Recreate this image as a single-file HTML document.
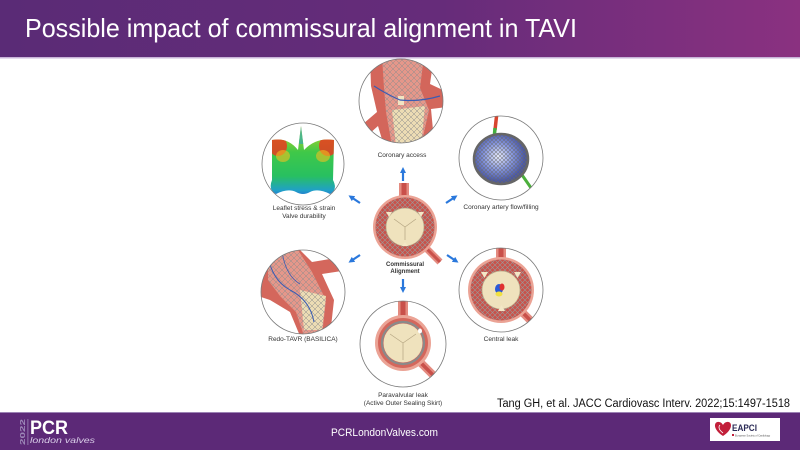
<!DOCTYPE html>
<html><head><meta charset="utf-8"><style>
html,body{margin:0;padding:0;background:#fff;}
svg{display:block;}
text{font-family:"Liberation Sans",sans-serif;}
</style></head><body>
<svg width="800" height="450" viewBox="0 0 800 450" xmlns="http://www.w3.org/2000/svg">
<defs>
<linearGradient id="hdr" x1="0" y1="0" x2="1" y2="0">
<stop offset="0" stop-color="#5a2b76"/><stop offset="0.55" stop-color="#662c7a"/><stop offset="1" stop-color="#8a3180"/>
</linearGradient>
<pattern id="mesh" width="6" height="6" patternUnits="userSpaceOnUse"><path d="M0 0L6 6M6 0L0 6" stroke="#8d8d8d" stroke-width="0.5" fill="none"/></pattern>
<pattern id="meshd" width="5" height="5" patternUnits="userSpaceOnUse"><path d="M0 0L5 5M5 0L0 5" stroke="#9a9a9a" stroke-width="0.6" fill="none"/></pattern>
<pattern id="meshg" width="4" height="4" patternUnits="userSpaceOnUse"><path d="M0 0L4 4M4 0L0 4" stroke="#6a6a6a" stroke-width="0.5" fill="none"/></pattern>
<linearGradient id="heat" x1="0" y1="0" x2="0" y2="1">
<stop offset="0" stop-color="#e8a020"/><stop offset="0.2" stop-color="#9ad030"/><stop offset="0.4" stop-color="#40c848"/><stop offset="0.7" stop-color="#28c060"/><stop offset="0.88" stop-color="#20a0c8"/><stop offset="1" stop-color="#2a50d0"/>
</linearGradient>
<radialGradient id="sph" cx="0.45" cy="0.45" r="0.6">
<stop offset="0" stop-color="#e4e8f8"/><stop offset="0.45" stop-color="#8494dc"/><stop offset="0.8" stop-color="#4a58a8"/><stop offset="1" stop-color="#555a70"/>
</radialGradient>
<clipPath id="c1"><circle cx="401" cy="101" r="42"/></clipPath>
<clipPath id="c2"><circle cx="303" cy="164" r="41"/></clipPath>
<clipPath id="c3"><circle cx="501" cy="158" r="42"/></clipPath>
<clipPath id="c4"><circle cx="303" cy="292" r="42"/></clipPath>
<clipPath id="c5"><circle cx="501" cy="290" r="42"/></clipPath>
<clipPath id="c6"><circle cx="403" cy="344" r="43"/></clipPath>
<clipPath id="leaf"><path d="M272,140 Q288,137 298,150 L301,126 L304,150 Q316,137 334,140 L333,180 Q338,190 330,194 Q318,188 310,192 Q303,196 296,192 Q288,188 276,194 Q268,190 272,180 Z"/></clipPath>
<marker id="ah" markerWidth="6" markerHeight="6" refX="3" refY="3" orient="auto" markerUnits="userSpaceOnUse"><path d="M0,0 L6,3 L0,6 Z" fill="#2a78dc"/></marker>
</defs>

<!-- header -->
<rect x="0" y="0" width="800" height="57" fill="url(#hdr)"/>
<rect x="0" y="57" width="800" height="1.5" fill="#c8b4d8"/>
<text x="25" y="37" font-size="26" fill="#ffffff" textLength="552" lengthAdjust="spacingAndGlyphs">Possible impact of commissural alignment in TAVI</text>

<!-- top circle: Coronary access -->
<g clip-path="url(#c1)">
<rect x="355" y="55" width="95" height="95" fill="#fff"/>
<path d="M370,56 L434,56 L430,84 L447,92 L447,107 L431,109 L433,130 L426,146 L384,146 L378,126 L360,142 L356,130 L377,112 L371,86 Z" fill="#d3665b"/>
<path d="M382,56 L424,56 L420,88 L429,110 L421,146 L392,146 L386,112 L384,88 Z" fill="#e5978a"/>
<path d="M392,110 L425,106 L421,146 L396,146 Z" fill="#ecdcb4"/>
<path d="M382,56 L424,56 L420,88 L429,110 L421,146 L392,146 L386,112 L384,88 Z" fill="url(#mesh)"/>
<rect x="398" y="96" width="6" height="9" fill="#f1e4c2"/>
<path d="M374,86 Q388,95 400,100 Q420,102 440,96" stroke="#3a5cb4" stroke-width="1.2" fill="none"/>
</g>
<circle cx="401" cy="101" r="42" fill="none" stroke="#7a7a7a" stroke-width="0.8"/>
<text x="402" y="157" font-size="6.5" fill="#333" text-anchor="middle">Coronary access</text>

<!-- leaflet stress -->
<g clip-path="url(#c2)">
<rect x="260" y="120" width="90" height="90" fill="#fff"/>
<g clip-path="url(#leaf)">
<rect x="265" y="120" width="75" height="80" fill="url(#heat)"/>
<ellipse cx="278" cy="146" rx="9" ry="10" fill="#e83a20" opacity="0.85"/>
<ellipse cx="328" cy="146" rx="9" ry="10" fill="#e83a20" opacity="0.85"/>
<ellipse cx="283" cy="156" rx="7" ry="6" fill="#f0c020" opacity="0.6"/>
<ellipse cx="323" cy="156" rx="7" ry="6" fill="#f0c020" opacity="0.6"/>
<rect x="299" y="124" width="5" height="20" fill="#3ab0a0" opacity="0.8"/>
</g>
</g>
<circle cx="303" cy="164" r="41" fill="none" stroke="#7a7a7a" stroke-width="0.8"/>
<text x="304" y="210" font-size="6.5" fill="#333" text-anchor="middle">Leaflet stress &amp; strain</text>
<text x="304" y="218" font-size="6.5" fill="#333" text-anchor="middle">Valve durability</text>

<!-- coronary flow -->
<g clip-path="url(#c3)">
<rect x="455" y="112" width="95" height="95" fill="#fff"/>
<path d="M497,112 L495,130" stroke="#d8452f" stroke-width="3.5"/>
<path d="M495,128 L494,140" stroke="#44b040" stroke-width="3.5"/>
<path d="M520,172 L538,198" stroke="#4caf3c" stroke-width="3"/>
<ellipse cx="501" cy="159" rx="27" ry="25" fill="url(#sph)"/>
<ellipse cx="501" cy="159" rx="27" ry="25" fill="url(#meshg)"/>
<ellipse cx="501" cy="159" rx="27" ry="25" fill="none" stroke="#666" stroke-width="2.5"/>
</g>
<circle cx="501" cy="158" r="42" fill="none" stroke="#7a7a7a" stroke-width="0.8"/>
<text x="501" y="209" font-size="6.5" fill="#333" text-anchor="middle">Coronary artery flow/filling</text>

<!-- center -->
<rect x="399" y="183" width="10" height="20" fill="#e48b80"/>
<rect x="401.5" y="183" width="5" height="20" fill="#c9504a"/>
<path d="M424,246 L440,262" stroke="#e48b80" stroke-width="7"/>
<path d="M424,246 L440,262" stroke="#c9504a" stroke-width="3"/>
<circle cx="405" cy="227" r="32" fill="#eba395"/>
<circle cx="405" cy="227" r="29.5" fill="#c9524a"/>
<circle cx="405" cy="227" r="29.5" fill="url(#meshd)"/>
<circle cx="405" cy="227" r="19" fill="#efe2bd" stroke="#b8a888" stroke-width="0.7"/>
<path d="M405,227 L394,219 M405,227 L416,219 M405,227 L405,240" stroke="#b5a582" stroke-width="0.7"/>
<path d="M386,212 L392,212 L389,217 Z M418,212 L424,212 L421,217 Z M402,246 L408,246 L405,242 Z" fill="#f3e7c6"/>
<text x="405" y="266" font-size="6" font-weight="bold" fill="#333" text-anchor="middle">Commissural</text>
<text x="405" y="273" font-size="6" font-weight="bold" fill="#333" text-anchor="middle">Alignment</text>

<!-- redo-TAVR -->
<g clip-path="url(#c4)">
<rect x="258" y="248" width="90" height="90" fill="#fff"/>
<path d="M258,250 L300,250 L312,262 L348,256 L348,270 L322,274 L334,300 L330,336 L300,336 L290,312 L270,300 L258,296 Z" fill="#d4675c"/>
<path d="M268,250 L298,250 L312,272 L326,300 L322,336 L304,336 L296,312 L280,296 L268,280 Z" fill="#e5978a"/>
<path d="M300,290 L326,296 L322,330 L304,330 Z" fill="#ecdcb4"/>
<path d="M268,250 L298,250 L312,272 L326,300 L322,336 L304,336 L296,312 L280,296 L268,280 Z" fill="url(#mesh)"/>
<path d="M268,256 Q272,280 290,290 Q310,300 314,322" stroke="#3a5cb4" stroke-width="1" fill="none"/>
<path d="M282,252 Q286,276 300,284" stroke="#3a5cb4" stroke-width="0.8" fill="none"/>
</g>
<circle cx="303" cy="292" r="42" fill="none" stroke="#7a7a7a" stroke-width="0.8"/>
<text x="303" y="341" font-size="6.5" fill="#333" text-anchor="middle">Redo-TAVR (BASILICA)</text>

<!-- central leak -->
<g clip-path="url(#c5)">
<rect x="455" y="245" width="95" height="95" fill="#fff"/>
<rect x="496" y="245" width="10" height="16" fill="#e48b80"/>
<rect x="498.5" y="245" width="5" height="16" fill="#c9504a"/>
<path d="M522,312 L544,334" stroke="#e48b80" stroke-width="8"/>
<path d="M522,312 L544,334" stroke="#c9504a" stroke-width="3.5"/>
<circle cx="501" cy="290" r="33" fill="#eba395"/>
<circle cx="501" cy="290" r="30.5" fill="#c9524a"/>
<circle cx="501" cy="290" r="30.5" fill="url(#meshd)"/>
<circle cx="501" cy="290" r="19" fill="#efe2bd" stroke="#b8a888" stroke-width="0.7"/>
<path d="M481,272 L488,272 L484.5,278 Z M514,272 L521,272 L517.5,278 Z M498,311 L505,311 L501.5,305 Z" fill="#f3e7c6"/>
<ellipse cx="499" cy="289" rx="4" ry="5" fill="#2a5ad8"/>
<ellipse cx="502" cy="287" rx="2.5" ry="3.5" fill="#e03030"/>
<ellipse cx="499" cy="294" rx="3.5" ry="2.5" fill="#f0e040"/>
</g>
<circle cx="501" cy="290" r="42" fill="none" stroke="#7a7a7a" stroke-width="0.8"/>
<text x="501" y="341" font-size="6.5" fill="#333" text-anchor="middle">Central leak</text>

<!-- paravalvular -->
<g clip-path="url(#c6)">
<rect x="358" y="299" width="92" height="92" fill="#fff"/>
<rect x="398" y="299" width="10" height="20" fill="#e48b80"/>
<rect x="400.5" y="299" width="5" height="20" fill="#c9504a"/>
<path d="M420,362 L442,384" stroke="#e48b80" stroke-width="8"/>
<path d="M420,362 L442,384" stroke="#c9504a" stroke-width="3.5"/>
<circle cx="403" cy="343" r="28" fill="#eba395"/>
<circle cx="403" cy="343" r="25" fill="#d4675c"/>
<circle cx="403" cy="343" r="21" fill="none" stroke="#8a8a8a" stroke-width="2.2"/>
<circle cx="403" cy="343" r="19.5" fill="#efe2bd"/>
<path d="M403,343 L390,334 M403,343 L416,334 M403,343 L403,360" stroke="#b5a582" stroke-width="0.7"/>
<ellipse cx="420" cy="331" rx="2" ry="2.5" fill="#fff"/>
</g>
<circle cx="403" cy="344" r="43" fill="none" stroke="#7a7a7a" stroke-width="0.8"/>
<text x="403" y="397" font-size="6.5" fill="#333" text-anchor="middle">Paravalvular leak</text>
<text x="403" y="405" font-size="6.5" fill="#333" text-anchor="middle">(Active Outer Sealing Skirt)</text>

<!-- arrows -->
<g stroke="#2a78dc" stroke-width="2.2" fill="none" marker-end="url(#ah)">
<path d="M403,181 L403,170"/>
<path d="M360,203 L351,197"/>
<path d="M446,203 L455,197"/>
<path d="M360,255 L351,261"/>
<path d="M403,279 L403,290"/>
<path d="M447,255 L456,261"/>
</g>

<!-- citation -->
<text x="497" y="407" font-size="11.5" fill="#111" textLength="293" lengthAdjust="spacingAndGlyphs">Tang GH, et al. JACC Cardiovasc Interv. 2022;15:1497-1518</text>

<!-- footer -->
<rect x="0" y="412" width="800" height="38" fill="#5c2977"/>
<rect x="0" y="412" width="800" height="1" fill="#9b82b4"/>
<text x="0" y="0" font-size="7.5" font-weight="bold" fill="#9d88b8" transform="translate(25,445) rotate(-90)" textLength="26" lengthAdjust="spacingAndGlyphs">2022</text>
<rect x="27.5" y="419" width="0.8" height="26" fill="#9d88b8"/>
<text x="30" y="434" font-size="19" font-weight="bold" fill="#fff" textLength="38" lengthAdjust="spacingAndGlyphs">PCR</text>
<text x="30" y="443" font-size="8.5" font-style="italic" fill="#d9cde8" textLength="65" lengthAdjust="spacingAndGlyphs">london valves</text>
<text x="331" y="436" font-size="11" fill="#fff" textLength="107" lengthAdjust="spacingAndGlyphs">PCRLondonValves.com</text>
<rect x="710" y="418" width="70" height="23" fill="#fff"/>
<path d="M723,436 C712,429 714,421 719,422 C721,422 722.5,424 723,425 C723.5,424 725,422 727,422 C732,421 734,429 723,436 Z" fill="#c21f3a"/>
<path d="M720,425 C718,427 719,430 723,433" stroke="#fff" stroke-width="0.8" fill="none"/>
<text x="732" y="431" font-size="9.5" font-weight="bold" fill="#2a2a55" textLength="25" lengthAdjust="spacingAndGlyphs">EAPCI</text>
<rect x="732" y="434" width="2" height="2" fill="#c21f3a"/>
<text x="735" y="436.5" font-size="2.5" fill="#555">European Society of Cardiology</text>
</svg>
</body></html>
